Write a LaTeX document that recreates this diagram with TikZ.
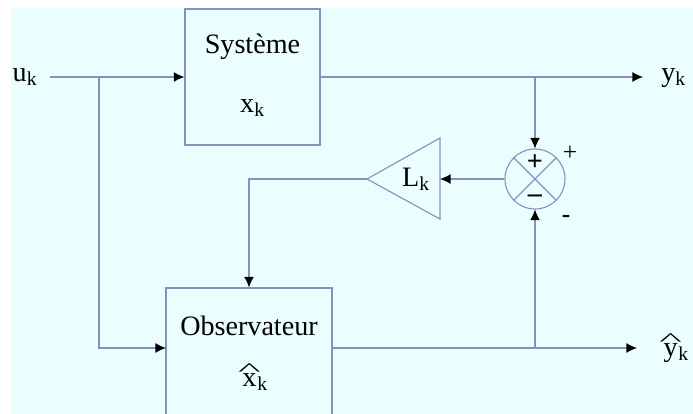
\documentclass[tikz,border=0pt]{standalone}
\usepackage{fontspec}
\usepackage{graphicx}
\setmainfont{Liberation Serif}
\usetikzlibrary{arrows.meta,positioning,shapes.geometric}
\newcommand\chapeau[1]{\leavevmode\vbox{\offinterlineskip\halign{\hfil##\hfil\cr
	\resizebox{0.8em}{0.42em}{\textasciicircum}\cr\noalign{\kern-1.5pt}#1\cr}}\kern-0.12em}

\begin{document}
\begin{tikzpicture}[
		x=0.025cm,
		y=-0.025cm,
		fleche/.style={draw=MauTrait,line width=0.8pt,-{Latex[black,length=7.5pt,width=7pt]}},
		bloc/.style={draw=MauTrait,line width=0.8pt,rectangle,inner sep=0pt},
		etiq/.style={inner sep=0pt,font=\fontsize{20}{24}\selectfont}
	]
	% ===== MÀU SẮC =====
	\definecolor{MauNen}{RGB}{234,254,255}
	\definecolor{MauTrait}{RGB}{135,145,190}

	% ===== KHUNG =====
	\useasboundingbox (0,0) rectangle (693,414);
	\clip (0,0) rectangle (693,414);
	\fill[MauNen] (11,8) rectangle (693,414);

	% ===== CÁC KHỐI =====
	\node[bloc,minimum width=3.375cm,minimum height=3.4cm] (sys) at (252.5,77) {};
	\node[bloc,minimum width=4.15cm,minimum height=3.8cm] (obs) at (249,364) {};
	\node[draw=MauTrait,line width=0.8pt,circle,minimum size=1.5cm,inner sep=0pt] (sum) at (535,179) {};

	\node[etiq] (systxt) at (252.5,47) {Système};
	\node[etiq] (sysx) at (252.5,108) {x\textsubscript{k}};
	\node[etiq] (obstxt) at (249,326) {Observateur};
	\node[etiq,anchor=base] (obsx) at (253,386) {\chapeau{x}\textsubscript{k}};

	% ===== GAIN L =====
	\coordinate (gainbase) at (440,179);
	\coordinate (gaintip) at (367,179);
	\draw[MauTrait,line width=0.8pt] (440,138) -- (440,219) -- (gaintip) -- cycle;
	\node[etiq] (gain) at (416,179) {L\textsubscript{k}};

	% ===== NÚT CỘNG =====
	\draw[MauTrait,line width=0.8pt] (sum.north east) -- (sum.south west)
		(sum.north west) -- (sum.south east);
	\node[font=\fontsize{20}{24}\selectfont\bfseries,inner sep=0pt] (pin) at (535,163) {+};
	\node[font=\fontsize{20}{24}\selectfont\bfseries,inner sep=0pt] (min) at (535,199) {–};
	\node[font=\fontsize{18}{20}\selectfont,inner sep=0pt] (pout) at (570,153) {+};
	\node[font=\fontsize{18}{20}\selectfont\bfseries,inner sep=0pt] (mout) at (566,219) {-};

	% ===== TÍN HIỆU =====
	\node[etiq] (uk) at (25,77) {u\textsubscript{k}};
	\node[etiq,anchor=west] (yk) at (661,78) {y\textsubscript{k}};
	\node[etiq,anchor=base west] (yhat) at (659,356) {\chapeau{y}\textsubscript{k}};

	\coordinate (debut) at (50,77);
	\coordinate (split) at (99,77);
	\coordinate (obsin) at (166,348);
	\coordinate (tap) at (535,77);
	\coordinate (tapbas) at (535,348);
	\coordinate (finy) at (643,77);
	\coordinate (finyhat) at (637,348);

	% ===== LIÊN KẾT =====
	\draw[fleche] (debut) -- (sys.west);
	\draw[fleche] (split) |- (obsin);
	\draw[fleche] (sys.east) -- (finy);
	\draw[fleche] (tap) -- (sum.north);
	\draw[fleche] (sum.west) -- (gainbase);
	\draw[fleche] (gaintip) -| (obs.north);
	\draw[fleche] (obs.east |- obsin) -- (finyhat);
	\draw[fleche] (tapbas) -- (sum.south);

\end{tikzpicture}
\end{document}
